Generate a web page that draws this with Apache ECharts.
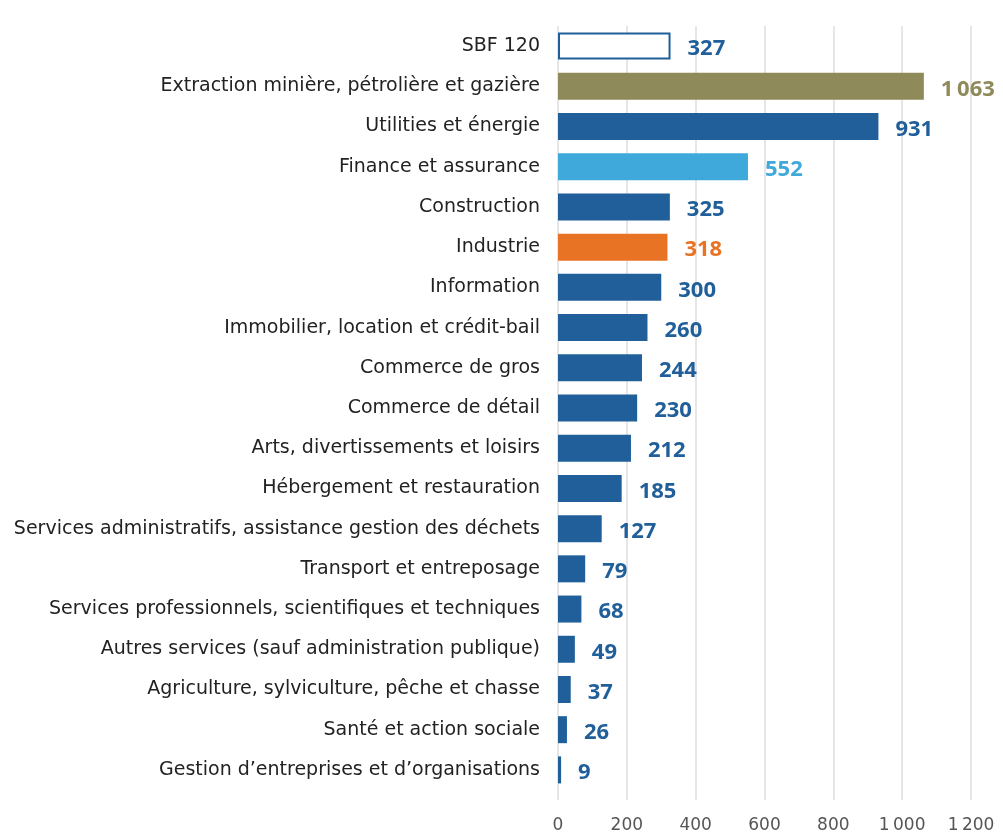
<!DOCTYPE html>
<html>
<head>
<meta charset="utf-8">
<script src="https://cdn.jsdelivr.net/npm/echarts@6/dist/echarts.min.js"></script>
<style>
  html, body { margin: 0; padding: 0; background: #fff; }
  #chart { width: 1003px; height: 836px; }
</style>
</head>
<body>
<div id="chart"></div>
<script>
var categories = [
  "SBF 120",
  "Extraction minière, pétrolière et gazière",
  "Utilities et énergie",
  "Finance et assurance",
  "Construction",
  "Industrie",
  "Information",
  "Immobilier, location et crédit-bail",
  "Commerce de gros",
  "Commerce de détail",
  "Arts, divertissements et loisirs",
  "Hébergement et restauration",
  "Services administratifs, assistance gestion des déchets",
  "Transport et entreposage",
  "Services professionnels, scientifiques et techniques",
  "Autres services (sauf administration publique)",
  "Agriculture, sylviculture, pêche et chasse",
  "Santé et action sociale",
  "Gestion d’entreprises et d’organisations"
];
var values = [327, 1063, 931, 552, 325, 318, 300, 260, 244, 230, 212, 185, 127, 79, 68, 49, 37, 26, 9];
var xTicks = [0, 200, 400, 600, 800, 1000, 1200];

var BLUE = "#215f9a";
var special = {
  "SBF 120": { fill: "#ffffff", border: BLUE, text: BLUE },
  "Extraction minière, pétrolière et gazière": { fill: "#8f8a5a", text: "#8f8a5a" },
  "Finance et assurance": { fill: "#40a9db", text: "#40a9db" },
  "Industrie": { fill: "#e87325", text: "#e87325" }
};

function fmt(v) {
  var s = String(v);
  return s.length > 3 ? s.slice(0, s.length - 3) + "\u2009" + s.slice(-3) : s;
}

var barData = values.map(function (v, i) {
  var st = special[categories[i]] || { fill: BLUE, text: BLUE };
  var item = {
    value: v,
    itemStyle: { color: st.fill },
    label: { color: st.text }
  };
  if (st.border) {
    item.itemStyle.borderColor = st.border;
    item.itemStyle.borderWidth = 2;
  }
  return item;
});

var chart = echarts.init(document.getElementById("chart"));
chart.setOption({
  backgroundColor: "#fff",
  animation: false,
  textStyle: { fontFamily: "Open Sans" },
  grid: [
    { left: 558, right: 32, top: 26, bottom: 46 },
    { left: 558, right: 32, top: 26, bottom: 36 }
  ],
  xAxis: [
    {
      gridIndex: 0, type: "value", min: 0, max: 1200, interval: 200,
      axisLine: { show: false }, axisTick: { show: false },
      axisLabel: { show: false }, splitLine: { show: false }
    },
    {
      gridIndex: 1, type: "value", min: xTicks[0], max: xTicks[xTicks.length - 1], interval: 200,
      axisLine: { show: false }, axisTick: { show: false },
      axisLabel: {
        margin: 17, fontSize: 17, color: "#555", fontFamily: "DejaVu Sans",
        formatter: function (v) { return fmt(v); }
      },
      splitLine: { show: true, lineStyle: { color: "#e6e6e6", width: 2 } }
    }
  ],
  yAxis: [
    {
      gridIndex: 0, type: "category", data: categories, inverse: true,
      axisLine: { show: false }, axisTick: { show: false },
      axisLabel: { margin: 18, fontSize: 19, color: "#222", fontFamily: "DejaVu Sans" }
    },
    {
      gridIndex: 1, type: "category", data: categories, show: false
    }
  ],
  series: [
    {
      type: "bar",
      xAxisIndex: 0, yAxisIndex: 0,
      barWidth: 27,
      data: barData,
      label: {
        show: true, position: "right", distance: 17, offset: [0, 3],
        fontSize: 22, fontWeight: "bold",
        formatter: function (p) { return fmt(p.value); }
      }
    }
  ]
});
</script>
</body>
</html>
